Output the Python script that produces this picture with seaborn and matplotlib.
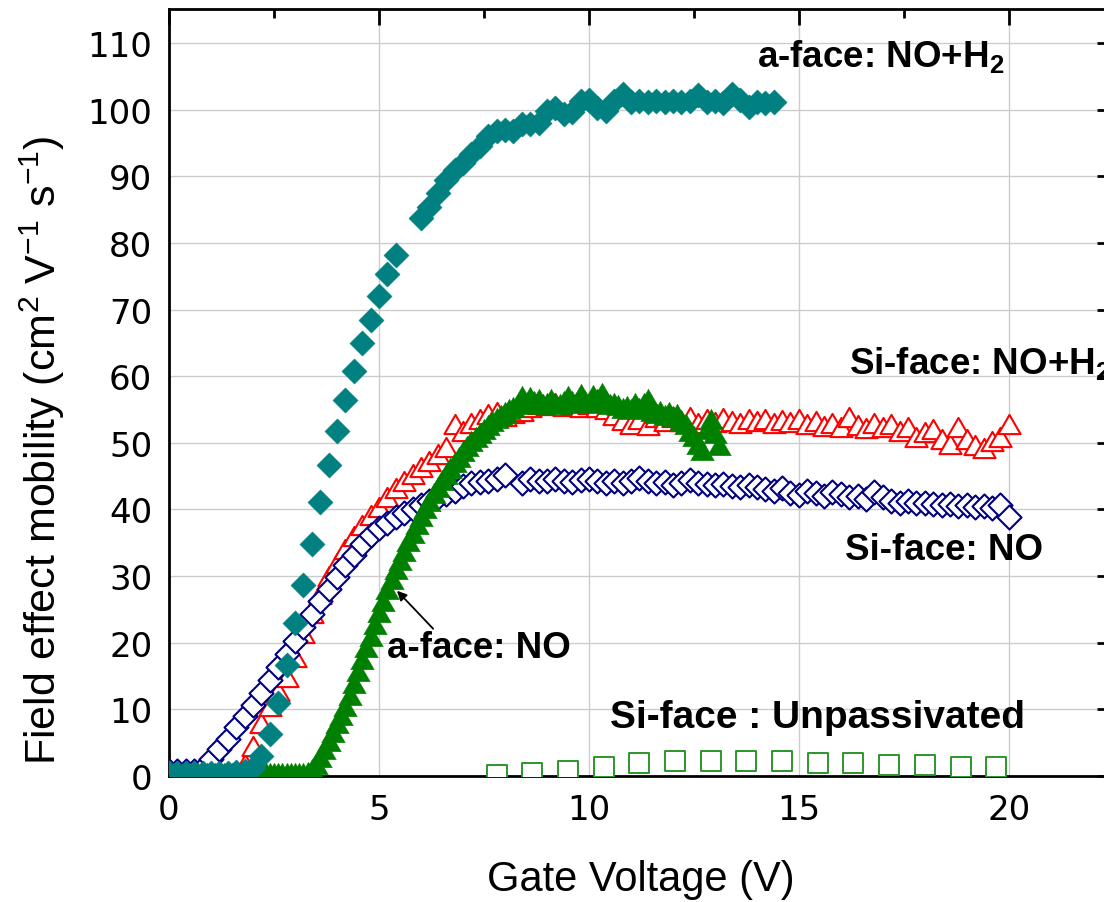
import matplotlib
matplotlib.use('Agg')
import matplotlib.pyplot as plt
import seaborn as sns
from matplotlib.path import Path
from matplotlib.ticker import MultipleLocator

# ---------------- data ----------------
# a-face: NO+H2 (filled teal diamonds)
teal_x = [0.0, 0.2, 0.4, 0.6, 0.8, 1.0, 1.2, 1.4, 1.6, 1.8,
          2.0, 2.2, 2.4, 2.6, 2.8, 3.0, 3.2, 3.4, 3.6, 3.8,
          4.0, 4.2, 4.4, 4.6, 4.8, 5.0, 5.2, 5.4,
          6.0, 6.2, 6.4, 6.6, 6.8, 7.0, 7.2, 7.4, 7.6, 7.8,
          8.0, 8.2, 8.4, 8.6, 8.8, 9.0, 9.2, 9.4, 9.6, 9.8,
          10.0, 10.2, 10.4, 10.6, 10.8, 11.0, 11.2, 11.4, 11.6, 11.8,
          12.0, 12.2, 12.4, 12.6, 12.8, 13.0, 13.2, 13.4, 13.6, 13.8,
          14.0, 14.2, 14.4]
teal_y = [0.5, 0.5, 0.5, 0.5, 0.5, 0.5, 0.5, 0.5, 0.6, 0.8,
          1.2, 3.0, 6.3, 11.0, 16.7, 23.0, 28.7, 34.8, 41.1, 46.6,
          51.7, 56.4, 60.8, 65.0, 68.5, 72.0, 75.4, 78.2,
          83.8, 85.4, 87.5, 89.5, 91.0, 92.0, 93.3, 94.5, 96.0, 96.8,
          97.0, 96.8, 97.8, 97.8, 98.0, 99.8, 100.2, 99.4, 99.6, 101.3,
          101.4, 100.2, 99.8, 101.3, 102.3, 101.1, 101.3, 101.1, 101.3, 101.1,
          101.3, 101.1, 101.3, 102.2, 101.1, 101.3, 101.0, 102.4, 101.4, 100.4,
          101.2, 101.0, 101.1]

# Si-face: NO+H2 (open red triangles)
red_x = [0.0, 0.2, 0.4, 0.6, 0.8, 1.0, 1.2, 1.4, 1.6, 1.8,
         2.0, 2.2, 2.4, 2.6, 2.8, 3.0, 3.2, 3.4, 3.6, 3.8,
         4.0, 4.2, 4.4, 4.6, 4.8, 5.0, 5.2, 5.4, 5.6, 5.8,
         6.0, 6.2, 6.4, 6.6, 6.8, 7.0, 7.2, 7.4, 7.6, 7.8,
         8.0, 8.2, 8.4, 8.6, 8.8, 9.0, 9.2, 9.4, 9.6, 9.8,
         10.0, 10.2, 10.4, 10.6, 10.8, 11.0, 11.2, 11.4, 11.6, 11.8,
         12.0, 12.2, 12.4, 12.6, 12.8, 13.0, 13.2, 13.4, 13.6, 13.8,
         14.0, 14.2, 14.4, 14.6, 14.8, 15.0, 15.2, 15.4, 15.6, 15.8,
         16.0, 16.2, 16.4, 16.6, 16.8, 17.0, 17.2, 17.4, 17.6, 17.8,
         18.0, 18.2, 18.4, 18.6, 18.8, 19.0, 19.2, 19.4, 19.6, 19.8,
         20.0]
red_y = [0.5, 0.5, 0.5, 0.5, 0.5, 0.5, 0.5, 0.5, 0.8, 1.8,
         4.5, 8.0, 10.5, 12.8, 14.8, 17.8, 21.5, 24.5, 27.3, 30.0,
         32.0, 34.0, 36.0, 37.7, 39.1, 40.4, 41.9, 43.2, 44.3, 45.3,
         46.3, 47.3, 48.3, 49.4, 52.8, 51.8, 53.0, 53.6, 54.3, 54.6,
         54.0, 54.4, 54.8, 55.4, 55.8, 55.6, 55.9, 55.5, 55.7, 55.4,
         55.8, 55.3, 55.0, 54.2, 53.4, 52.8, 53.5, 52.7, 53.8, 53.2,
         53.9, 53.3, 53.8, 52.9, 53.5, 53.1, 53.7, 53.3, 53.0, 53.5,
         53.2, 53.6, 53.0, 53.4, 53.1, 53.5, 52.8, 53.3, 52.5, 53.0,
         52.3, 53.9, 52.6, 52.2, 53.0, 52.4, 52.8, 51.8, 52.3, 50.8,
         51.6, 52.0, 50.5, 49.8, 52.4, 50.6, 49.6, 49.2, 50.3, 50.8,
         52.8]

# Si-face: NO (open navy diamonds)
blue_x = [0.0, 0.2, 0.4, 0.6, 0.8, 1.0, 1.2, 1.4, 1.6, 1.8,
          2.0, 2.2, 2.4, 2.6, 2.8, 3.0, 3.2, 3.4, 3.6, 3.8,
          4.0, 4.2, 4.4, 4.6, 4.8, 5.0, 5.2, 5.4, 5.6, 5.8,
          6.0, 6.2, 6.4, 6.6, 6.8, 7.0, 7.2, 7.4, 7.6, 7.8,
          8.0,
          8.4, 8.6, 8.8, 9.0, 9.2, 9.4, 9.6, 9.8,
          10.0, 10.2, 10.4, 10.6, 10.8, 11.0, 11.2, 11.4, 11.6, 11.8,
          12.0, 12.2, 12.4, 12.6, 12.8, 13.0, 13.2, 13.4, 13.6, 13.8,
          14.0, 14.2, 14.4, 14.6, 14.8, 15.0, 15.2, 15.4, 15.6, 15.8,
          16.0, 16.2, 16.4, 16.6, 16.8, 17.0, 17.2, 17.4, 17.6, 17.8,
          18.0, 18.2, 18.4, 18.6, 18.8, 19.0, 19.2, 19.4, 19.6, 19.8,
          20.0]
blue_y = [0.8, 0.8, 0.8, 0.8, 1.2, 2.5, 4.0, 5.6, 7.3, 9.0,
          10.7, 12.5, 14.4, 16.3, 18.3, 20.3, 22.3, 24.3, 26.2, 28.1,
          29.9, 31.6, 33.2, 34.8, 36.1, 37.2, 38.0, 38.8, 39.5, 40.1,
          40.7, 41.2, 41.8, 42.3, 42.8, 43.5, 43.9, 44.1, 44.3, 44.6,
          45.2,
          44.0, 44.5, 44.3, 44.2, 44.5, 44.3, 44.1, 44.4,
          44.5, 44.2, 44.0, 44.3, 44.0, 44.3, 44.7, 44.2, 43.9, 44.1,
          43.6, 44.0, 44.4, 44.0, 43.8, 43.6, 43.8, 43.5, 43.3, 43.6,
          43.4, 43.1, 42.8, 43.2, 42.5, 42.2, 42.8, 42.4, 42.0, 42.6,
          42.3, 41.8, 42.0, 41.6, 42.6, 41.9, 41.3, 41.0, 41.2, 40.9,
          41.0, 40.8, 40.6, 40.8, 40.5, 40.7, 40.3, 40.5, 40.2, 40.6,
          38.8]

# a-face: NO (filled green triangles)
green_x = [0.0, 0.1, 0.2, 0.3, 0.4, 0.5, 0.6, 0.7, 0.8, 0.9,
           1.0, 1.1, 1.2, 1.3, 1.4, 1.5, 1.6, 1.7, 1.8, 1.9,
           2.0, 2.1, 2.2, 2.3, 2.4, 2.5, 2.6, 2.7, 2.8, 2.9,
           3.0, 3.1, 3.2, 3.3, 3.4, 3.5, 3.6, 3.7, 3.8, 3.9,
           4.0, 4.1, 4.2, 4.3, 4.4, 4.5, 4.6, 4.7, 4.8, 4.9,
           5.0, 5.1, 5.2, 5.3, 5.4, 5.5, 5.6, 5.7, 5.8, 5.9,
           6.0, 6.1, 6.2, 6.3, 6.4, 6.5, 6.6, 6.7, 6.8, 6.9,
           7.0, 7.1, 7.2, 7.3, 7.4, 7.5, 7.6, 7.7, 7.8, 7.9,
           8.0, 8.1, 8.2, 8.3, 8.4, 8.5, 8.6, 8.7, 8.8, 8.9,
           9.0, 9.1, 9.2, 9.3, 9.4, 9.5, 9.6, 9.7, 9.8, 9.9,
           10.0, 10.1, 10.2, 10.3, 10.4, 10.5, 10.6, 10.7, 10.8, 10.9,
           11.0, 11.1, 11.2, 11.3, 11.4, 11.5, 11.6, 11.7, 11.8, 11.9,
           12.0, 12.1, 12.2, 12.3, 12.4, 12.5, 12.6, 12.7, 12.8, 12.9,
           13.0, 13.1]
green_y = [0.4, 0.4, 0.4, 0.4, 0.4, 0.4, 0.4, 0.4, 0.4, 0.4,
           0.4, 0.4, 0.4, 0.4, 0.4, 0.4, 0.4, 0.4, 0.4, 0.4,
           0.4, 0.4, 0.4, 0.4, 0.4, 0.4, 0.4, 0.4, 0.4, 0.4,
           0.4, 0.4, 0.4, 0.6, 1.0, 1.8, 2.8, 4.0, 5.3, 6.6,
           7.9, 9.2, 10.5, 12.2, 14.0, 15.8, 17.6, 19.3, 21.0, 22.8,
           24.6, 26.3, 28.0, 29.5, 31.0, 32.4, 33.8, 35.2, 36.5, 37.8,
           39.0, 40.2, 41.3, 42.4, 43.4, 44.4, 45.3, 46.2, 47.1, 47.9,
           48.7, 49.5, 50.2, 50.9, 51.5, 52.1, 52.7, 53.2, 53.7, 54.2,
           54.6, 55.0, 55.4, 55.8, 57.0, 56.0, 56.8, 56.2, 56.5, 55.8,
           56.0, 56.6, 56.0, 55.8, 56.2, 57.0, 56.2, 56.0, 57.3, 56.2,
           55.9, 57.2, 56.5, 57.4, 56.3, 55.8, 56.0, 55.6, 55.2, 55.5,
           55.0, 56.0, 55.2, 56.0, 56.6, 54.8, 54.5, 54.8, 54.2, 54.6,
           54.0, 54.3, 53.4, 52.8, 51.8, 51.0, 49.8, 48.9, 52.0, 53.6,
           51.5, 49.6]

# Si-face: Unpassivated (open green squares)
sq_x = [7.8, 8.65, 9.5, 10.35, 11.2, 12.05, 12.9, 13.75, 14.6, 15.45,
        16.3, 17.15, 18.0, 18.85, 19.7]
sq_y = [0.15, 0.45, 0.8, 1.35, 2.0, 2.3, 2.3, 2.3, 2.2, 2.0,
        2.0, 1.65, 1.6, 1.4, 1.4]

x_ticks = [0, 5, 10, 15, 20]
y_ticks = [0, 10, 20, 30, 40, 50, 60, 70, 80, 90, 100, 110]

# ---------------- style ----------------
sns.set_theme(style='white')
plt.rcParams['font.family'] = ['DejaVu Sans']
plt.rcParams['mathtext.fontset'] = 'custom'
plt.rcParams['mathtext.rm'] = 'Liberation Sans'
plt.rcParams['mathtext.it'] = 'Liberation Sans:italic'
plt.rcParams['mathtext.bf'] = 'Liberation Sans:bold'

fig = plt.figure(figsize=(11.04, 9.03), dpi=100)
ax = fig.add_axes([169 / 1104, 126 / 903, 944 / 1104, 767 / 903])

tri = Path([(0, 0.433), (-0.5, -0.433), (0.5, -0.433), (0, 0.433)],
           [Path.MOVETO, Path.LINETO, Path.LINETO, Path.CLOSEPOLY])

sns.scatterplot(x=red_x, y=red_y, marker=tri, s=255, facecolor='white',
                edgecolor='#ff0000', linewidth=1.5, ax=ax, zorder=3)
sns.scatterplot(x=blue_x, y=blue_y, marker='D', s=150, facecolor='white',
                edgecolor='#000080', linewidth=1.5, ax=ax, zorder=4)
sns.scatterplot(x=green_x, y=green_y, marker=tri, s=290, facecolor='#008000',
                edgecolor='#008000', linewidth=0.3, ax=ax, zorder=5)
sns.scatterplot(x=teal_x, y=teal_y, marker='D', s=165, facecolor='#008080',
                edgecolor='#008080', linewidth=0.3, ax=ax, zorder=6)
sns.scatterplot(x=sq_x, y=sq_y, marker='s', s=215, facecolor='white',
                edgecolor='#2a962a', linewidth=1.4, ax=ax, zorder=7)

ax.set_xlim(0, 22.48)
ax.set_ylim(0, 115.1)
ax.set_xticks(x_ticks)
ax.set_yticks(y_ticks)
ax.xaxis.set_minor_locator(MultipleLocator(2.5))
ax.yaxis.set_minor_locator(MultipleLocator(5))
ax.tick_params(which='both', direction='in', top=True, right=True,
               width=2, color='black')
ax.tick_params(which='major', length=11.5, labelsize=24.5, pad=12,
               labelcolor='black')
ax.tick_params(which='minor', length=6.5)
ax.grid(which='major', color='#cccccc', linewidth=1.0)
ax.set_axisbelow(True)
for sp in ax.spines.values():
    sp.set_linewidth(2)
    sp.set_color('black')

ax.set_xlabel('Gate Voltage (V)', fontsize=30, family='Liberation Sans',
              color='black')
ax.set_ylabel('Field effect mobility (cm$^2$ V$^{-1}$ s$^{-1}$)', fontsize=31,
              family='Liberation Sans', color='black')
ax.xaxis.set_label_coords(0.5, -0.108)
ax.yaxis.set_label_coords(-0.108, 0.426)

tkw = dict(fontweight='bold', family='Liberation Sans',
           color='black', va='baseline', zorder=10)
ax.text(14.0, 106.6, 'a-face: NO+H$_\\mathbf{2}$', fontsize=26.5, **tkw)
ax.text(16.2, 60.5, 'Si-face: NO+H$_\\mathbf{2}$', fontsize=26.5,
        clip_on=False, **tkw)
ax.text(16.1, 32.6, 'Si-face: NO', fontsize=26.5, **tkw)
ax.text(5.2, 17.9, 'a-face: NO', fontsize=26.5, **tkw)
ax.text(10.5, 7.4, 'Si-face : Unpassivated', fontsize=28, **tkw)
ax.annotate('', xy=(5.43, 27.8), xytext=(6.29, 22.1),
            arrowprops=dict(arrowstyle='-|>', color='black', lw=1.3,
                            mutation_scale=14, shrinkA=0, shrinkB=0),
            zorder=10)

fig.savefig('out.png', dpi=100)
